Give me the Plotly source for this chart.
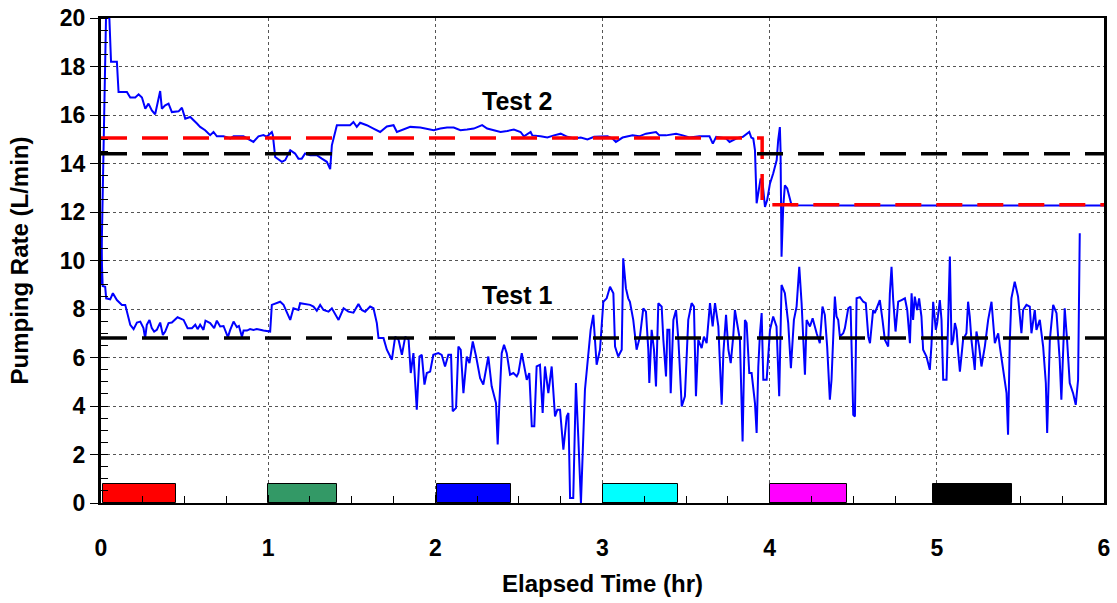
import plotly.graph_objects as go

# ---------------- data ----------------
t2_time = [0.0, 0.01, 0.02, 0.03, 0.05, 0.055, 0.06, 0.095, 0.105, 0.155, 0.175, 0.205, 0.225, 0.245,
           0.265, 0.284, 0.304, 0.324, 0.354, 0.364, 0.384, 0.404, 0.424, 0.464, 0.484, 0.504, 0.534,
           0.574, 0.593, 0.623, 0.653, 0.673, 0.693, 0.733, 0.773, 0.793, 0.852, 0.912, 0.942, 0.972,
           0.992, 1.022, 1.028, 1.042, 1.082, 1.102, 1.132, 1.161, 1.181, 1.201, 1.221, 1.251, 1.291,
           1.321, 1.351, 1.371, 1.381, 1.411, 1.49, 1.51, 1.53, 1.55, 1.59, 1.63, 1.67, 1.71, 1.75,
           1.77, 1.81, 1.85, 1.91, 1.95, 1.99, 2.03, 2.07, 2.11, 2.15, 2.19, 2.23, 2.28, 2.31, 2.35,
           2.39, 2.43, 2.47, 2.51, 2.53, 2.57, 2.58, 2.63, 2.67, 2.71, 2.75, 2.79, 2.83, 2.87, 2.91,
           2.95, 2.99, 3.03, 3.06, 3.08, 3.12, 3.18, 3.22, 3.26, 3.32, 3.34, 3.38, 3.44, 3.48, 3.52,
           3.58, 3.64, 3.66, 3.68, 3.74, 3.76, 3.80, 3.84, 3.878, 3.89, 3.902, 3.912, 3.922, 3.932,
           3.946, 3.958, 3.972, 3.985, 4.002, 4.021, 4.042, 4.051, 4.061, 4.065, 4.071, 4.081, 4.091,
           4.105, 4.121, 4.131, 4.5, 5.0, 5.5, 6.0]
t2_rate = [9.0, 12.5, 16.5, 20.0, 20.0, 19.0, 18.2, 18.2, 16.95, 16.95, 16.72, 16.72, 16.85, 16.72,
           16.26, 16.47, 16.19, 16.03, 16.99, 16.26, 16.40, 16.47, 16.12, 16.15, 16.30, 15.85, 15.92,
           15.65, 15.51, 15.37, 15.17, 15.30, 15.12, 15.12, 15.03, 15.12, 15.12, 14.89, 15.12, 15.17,
           15.10, 15.30, 15.17, 14.27, 14.07, 14.14, 14.55, 14.41, 14.20, 14.20, 14.41, 14.34, 14.34,
           14.20, 14.07, 13.77, 14.75, 15.58, 15.58, 15.71, 15.51, 15.68, 15.58, 15.44, 15.30, 15.53, 15.58,
           15.30, 15.40, 15.51, 15.48, 15.44, 15.37, 15.44, 15.48, 15.48, 15.37, 15.40, 15.44, 15.58, 15.44, 15.37,
           15.30, 15.34, 15.40, 15.30, 15.12, 15.30, 15.16, 15.12, 15.07, 15.16, 15.23, 15.10, 15.03, 15.07, 14.99,
           15.10, 15.12, 15.12, 15.03, 14.89, 15.07, 15.16, 15.12, 15.23, 15.30, 15.16, 15.16, 15.23, 15.16, 15.07,
           15.12, 15.12, 14.82, 15.10, 15.03, 14.89, 15.03, 15.10, 15.30, 15.07, 15.03, 14.55, 12.36, 12.77,
           13.38, 13.18, 12.21, 12.49, 13.18, 13.59, 14.14, 14.96, 15.5, 14.6, 10.16, 12.21, 13.1,
           12.97, 12.49, 12.28, 12.27, 12.27, 12.27, 12.27]

t1_time = [0.0, 0.005, 0.01, 0.025, 0.031, 0.055, 0.071, 0.095, 0.125, 0.145, 0.155, 0.175, 0.195, 0.215,
           0.235, 0.254, 0.264, 0.274, 0.290, 0.304, 0.318, 0.334, 0.354, 0.370, 0.384, 0.404, 0.424,
           0.458, 0.494, 0.518, 0.544, 0.564, 0.578, 0.593, 0.613, 0.625, 0.653, 0.677, 0.693, 0.713,
           0.733, 0.759, 0.773, 0.793, 0.813, 0.825, 0.843, 0.853, 0.873, 0.892, 0.912, 0.932, 0.972,
           1.012, 1.022, 1.052, 1.072, 1.092, 1.112, 1.132, 1.151, 1.181, 1.191, 1.221, 1.251, 1.271,
           1.291, 1.311, 1.331, 1.361, 1.381, 1.421, 1.451, 1.480, 1.510, 1.540, 1.560, 1.580, 1.610,
           1.630, 1.65, 1.66, 1.69, 1.71, 1.74, 1.76, 1.78, 1.80, 1.82, 1.84, 1.853, 1.869, 1.879, 1.889,
           1.905, 1.919, 1.935, 1.949, 1.969, 1.988, 2.018, 2.038, 2.058, 2.078, 2.094, 2.104, 2.124,
           2.138, 2.152, 2.168, 2.188, 2.204, 2.224, 2.244, 2.268, 2.287, 2.317, 2.337, 2.363, 2.373,
           2.383, 2.397, 2.411, 2.427, 2.447, 2.467, 2.487, 2.497, 2.517, 2.531, 2.547, 2.562, 2.577,
           2.592, 2.606, 2.626, 2.642, 2.656, 2.676, 2.696, 2.716, 2.730, 2.746, 2.766, 2.786, 2.796,
           2.806, 2.825, 2.841, 2.855, 2.871, 2.895, 2.915, 2.929, 2.945, 2.965, 2.985, 3.005, 3.025,
           3.045, 3.065, 3.075, 3.094, 3.115, 3.124, 3.140, 3.154, 3.164, 3.184, 3.204, 3.224, 3.244,
           3.260, 3.274, 3.280, 3.294, 3.308, 3.320, 3.334, 3.354, 3.364, 3.380, 3.388, 3.400, 3.408,
           3.424, 3.440, 3.454, 3.474, 3.493, 3.513, 3.533, 3.547, 3.559, 3.573, 3.593, 3.607, 3.623,
           3.643, 3.659, 3.673, 3.693, 3.713, 3.723, 3.739, 3.753, 3.767, 3.782, 3.792, 3.802, 3.822,
           3.838, 3.852, 3.862, 3.878, 3.892, 3.912, 3.922, 3.932, 3.942, 3.952, 3.962, 3.982, 4.002,
           4.021, 4.041, 4.057, 4.071, 4.091, 4.111, 4.127, 4.145, 4.161, 4.177, 4.191, 4.211, 4.221,
           4.241, 4.257, 4.281, 4.300, 4.316, 4.330, 4.344, 4.360, 4.370, 4.380, 4.390, 4.400, 4.410,
           4.420, 4.440, 4.450, 4.470, 4.484, 4.490, 4.500, 4.510, 4.520, 4.540, 4.560, 4.575, 4.590,
           4.600, 4.619, 4.629, 4.649, 4.659, 4.675, 4.689, 4.709, 4.719, 4.729, 4.739, 4.753, 4.769,
           4.789, 4.809, 4.823, 4.839, 4.849, 4.858, 4.868, 4.882, 4.894, 4.908, 4.918, 4.938, 4.958,
           4.968, 4.978, 4.994, 5.002, 5.018, 5.028, 5.038, 5.058, 5.078, 5.088, 5.098, 5.108, 5.118,
           5.128, 5.138, 5.157, 5.177, 5.187, 5.197, 5.207, 5.227, 5.237, 5.253, 5.267, 5.287, 5.307,
           5.327, 5.347, 5.367, 5.377, 5.397, 5.417, 5.426, 5.436, 5.446, 5.466, 5.486, 5.506, 5.516,
           5.536, 5.556, 5.566, 5.586, 5.596, 5.616, 5.636, 5.652, 5.660, 5.676, 5.696, 5.716, 5.735,
           5.745, 5.765, 5.779, 5.795, 5.815, 5.831, 5.845, 5.851, 5.855]
t1_rate = [11.0, 9.6, 8.95, 8.92, 8.44, 8.40, 8.65, 8.37, 8.17, 8.17, 7.89, 7.35, 7.17, 7.44,
           7.48, 7.21, 6.80, 7.35, 7.55, 7.21, 7.07, 7.14, 7.44, 6.93, 7.07, 7.42, 7.44,
           7.66, 7.55, 7.21, 7.21, 7.35, 7.17, 7.35, 7.14, 7.52, 7.42, 7.21, 7.52, 7.28,
           7.30, 6.84, 7.14, 7.48, 7.25, 7.30, 6.86, 7.11, 7.11, 7.17, 7.14, 7.17, 7.11,
           7.07, 8.17, 8.26, 8.30, 8.17, 7.89, 7.55, 8.03, 7.96, 8.24, 8.21, 8.17, 8.10,
           7.93, 8.17, 7.96, 7.89, 8.03, 7.55, 8.03, 7.89, 7.85, 8.21, 7.96, 7.89, 8.10,
           8.03, 7.42, 6.80, 6.80, 6.32, 5.91, 6.86, 6.73, 6.11, 6.86, 6.73, 5.36, 6.18, 5.22, 3.85,
           6.04, 6.11, 4.88, 5.36, 5.42, 6.11, 6.18, 6.11, 5.63, 6.11, 6.11, 3.78, 3.92,
           6.45, 6.32, 4.53, 6.04, 5.77, 6.66, 6.04, 5.15, 4.88, 6.04, 4.81, 4.12, 2.41,
           4.12, 6.18, 6.52, 6.18, 5.29, 5.36, 5.22, 5.36, 6.18, 5.63, 5.08, 5.36, 3.16,
           3.16, 5.63, 5.70, 3.71, 5.63, 4.53, 5.63, 3.57, 3.85, 3.85, 2.20, 3.57, 3.71,
           0.21, 0.21, 4.95, 2.75, 0.0, 4.67, 6.04, 7.14, 7.76, 5.70, 6.32, 8.30, 8.44,
           8.92, 8.65, 6.45, 6.04, 6.32, 10.09, 8.86, 8.44, 8.30, 7.55, 6.32, 6.86, 8.03,
           7.89, 6.32, 4.95, 7.14, 6.32, 4.81, 8.24, 8.10, 6.73, 5.22, 7.14, 7.14, 4.53,
           7.55, 7.96, 6.73, 3.98, 4.40, 7.55, 8.24, 8.10, 4.40, 6.73, 6.39, 6.86, 6.59,
           8.24, 7.28, 8.24, 7.28, 4.05, 6.18, 7.76, 6.32, 5.77, 6.86, 7.96, 7.55, 6.73,
           2.54, 7.55, 7.42, 5.36, 5.36, 4.12, 2.89, 5.63, 7.00, 7.83, 5.08, 5.08, 7.14,
           7.69, 7.28, 4.40, 8.99, 8.65, 7.42, 5.56, 7.55, 8.10, 9.74, 8.24, 5.29, 7.55,
           7.28, 7.62, 7.00, 6.59, 8.10, 7.76, 6.45, 4.26, 5.08, 7.14, 8.51, 7.69, 7.55,
           6.86, 7.00, 7.21, 8.03, 8.10, 5.91, 3.64, 3.57, 8.44, 8.49, 8.30, 8.24, 6.86,
           6.59, 7.96, 7.83, 8.17, 8.37, 7.55, 6.73, 6.45, 8.65, 9.74, 8.37, 7.07, 8.30,
           8.37, 8.44, 7.96, 6.59, 8.65, 7.55, 8.51, 7.96, 8.44, 7.69, 6.32, 6.04, 5.49,
           6.52, 8.30, 7.14, 7.42, 8.37, 7.55, 5.08, 5.08, 10.16, 6.52, 6.73, 7.42, 7.14,
           6.18, 5.42, 6.73, 7.00, 8.30, 7.69, 6.73, 5.49, 7.07, 6.45, 5.63, 6.45, 7.55,
           8.30, 6.59, 7.00, 6.45, 5.49, 4.53, 2.82, 6.59, 8.44, 9.13, 8.51, 7.00, 7.96,
           8.17, 8.10, 7.00, 7.96, 7.14, 7.55, 6.45, 4.95, 2.89, 6.73, 8.17, 7.83, 5.91,
           4.26, 8.03, 6.73, 4.95, 4.53, 4.05, 5.08, 8.44, 11.12]

target2_time = [0.0, 6.0]
target2_rate = [14.4, 14.4]
target1_time = [0.0, 6.0]
target1_rate = [6.8, 6.8]
setpoint_time = [0.0, 3.955, 3.955, 6.0]
setpoint_rate = [15.05, 15.05, 12.3, 12.3]

period_start = [0.01, 1.0, 2.01, 3.0, 4.0, 4.98]
period_end = [0.45, 1.41, 2.45, 3.45, 4.46, 5.45]
period_height = [0.8, 0.8, 0.8, 0.8, 0.8, 0.8]
period_colors = ["#FF0000", "#339966", "#0000FF", "#00FFFF", "#FF00FF", "#000000"]

labels = ["Test 2", "Test 1"]
label_x = [2.49, 2.49]
label_y = [16.56, 8.58]

# ---------------- figure ----------------
FONT = "Liberation Sans, Arial, sans-serif"
fig = go.Figure()

fig.add_trace(go.Bar(
    x=[(s + e) / 2 for s, e in zip(period_start, period_end)],
    y=period_height,
    width=[e - s for s, e in zip(period_start, period_end)],
    base=0,
    marker=dict(color=period_colors, line=dict(color="black", width=1)),
    showlegend=False, hoverinfo="skip"))

fig.add_trace(go.Scatter(x=t2_time, y=t2_rate, mode="lines",
                         line=dict(color="#0000FF", width=2), showlegend=False))
fig.add_trace(go.Scatter(x=t1_time, y=t1_rate, mode="lines",
                         line=dict(color="#0000FF", width=2), showlegend=False))

fig.add_trace(go.Scatter(x=setpoint_time, y=setpoint_rate, mode="lines",
                         line=dict(color="#FF0000", width=3.5, dash="26px,15px"), showlegend=False))
fig.add_trace(go.Scatter(x=target2_time, y=target2_rate, mode="lines",
                         line=dict(color="#000000", width=3.5, dash="26px,15px"), showlegend=False))
fig.add_trace(go.Scatter(x=target1_time, y=target1_rate, mode="lines",
                         line=dict(color="#000000", width=3.5, dash="26px,15px"), showlegend=False))

for txt, xx, yy in zip(labels, label_x, label_y):
    fig.add_annotation(x=xx, y=yy, text=txt, showarrow=False,
                       font=dict(family=FONT, size=25, color="black", weight="bold"))

fig.update_layout(
    width=1117, height=603,
    margin=dict(l=101, r=13, t=18, b=100, pad=0),
    plot_bgcolor="white", paper_bgcolor="white",
    font=dict(family=FONT, color="black"),
    showlegend=False,
    bargap=0,
)

fig.update_xaxes(
    range=[0, 6], dtick=1, tick0=0, autorange=False,
    showgrid=True, gridcolor="#555555", gridwidth=1, griddash="3px,3px",
    zeroline=False,
    showline=True, linecolor="black", linewidth=2, mirror=True,
    ticks="inside", ticklen=8, tickwidth=1, tickcolor="black",
    minor=dict(dtick=0.25, ticks="inside", ticklen=7, tickwidth=1, tickcolor="black", showgrid=False),
    tickfont=dict(family=FONT, size=23, color="black", weight="bold"),
    ticklabelstandoff=23, ticklabeloverflow="allow",
    title=dict(text="Elapsed Time (hr)", font=dict(family=FONT, size=24, color="black", weight="bold"),
               standoff=16),
    automargin=False,
)

fig.update_yaxes(
    range=[0, 20], dtick=2, tick0=0, autorange=False,
    showgrid=True, gridcolor="#555555", gridwidth=1, griddash="3px,3px",
    zeroline=False,
    showline=True, linecolor="black", linewidth=3, mirror=True,
    ticks="outside", ticklen=8, tickwidth=1, tickcolor="black",
    minor=dict(dtick=0.5, ticks="inside", ticklen=7, tickwidth=1, tickcolor="black", showgrid=False),
    tickfont=dict(family=FONT, size=23, color="black", weight="bold"),
    ticklabelstandoff=0, ticklabeloverflow="allow",
    title=dict(text="Pumping Rate (L/min)", font=dict(family=FONT, size=24, color="black", weight="bold"),
               standoff=25),
    automargin=False,
)

# remove the browser's default 8px page margin so the figure fills the window exactly
fig.write_html("out.html", config={"displayModeBar": False},
               post_script="document.body.style.margin='0';")
